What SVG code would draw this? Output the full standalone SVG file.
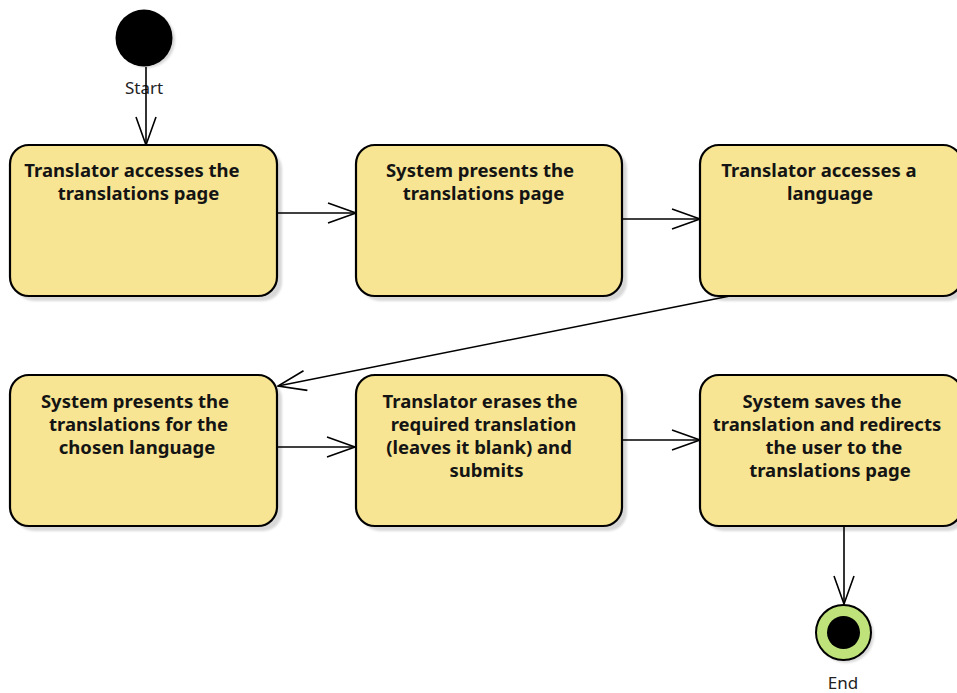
<svg xmlns="http://www.w3.org/2000/svg" width="957" height="693" viewBox="0 0 957 693">
  <style>
    .act { fill: #f8e593; stroke: #000; stroke-width: 2.2; }
    .shadow { fill: #d8d8d8; filter: url(#soft); }
    .lbl { font-family: "Noto Sans", "Open Sans", sans-serif; font-weight: bold; font-size: 18.5px; fill: #141414; text-anchor: middle; }
    .cap { font-family: "Noto Sans", "Open Sans", sans-serif; font-size: 17px; fill: #222; text-anchor: middle; }
    .edge { fill: none; stroke: #000; stroke-width: 1.6; }
  </style>
  <defs>
    <filter id="soft" x="-10%" y="-10%" width="120%" height="120%">
      <feGaussianBlur stdDeviation="1.2"/>
    </filter>
    <marker id="open" viewBox="0 0 30 22" refX="29" refY="11" markerWidth="30" markerHeight="22" markerUnits="userSpaceOnUse" orient="auto">
      <path d="M1,1 L29,11 L1,21" fill="none" stroke="#000" stroke-width="1.6"/>
    </marker>
  </defs>
  <rect width="957" height="693" fill="#fff"/>

  <!-- initial node -->
  <g id="start">
    <circle cx="147" cy="40" r="28" fill="#d8d8d8" filter="url(#soft)"/>
    <circle cx="144" cy="38" r="28.5" fill="#000"/>
    <text class="cap" x="144" y="94">Start</text>
  </g>

  <!-- actions -->
  <g id="a1">
    <rect class="shadow" x="15" y="150" width="267" height="151" rx="19"/>
    <rect class="act" x="10" y="145" width="267" height="151" rx="19"/>
    <text class="lbl"><tspan x="132" y="177">Translator accesses the</tspan><tspan x="138.5" y="200">translations page</tspan></text>
  </g>
  <g id="a2">
    <rect class="shadow" x="361" y="150" width="266" height="151" rx="19"/>
    <rect class="act" x="356" y="145" width="266" height="151" rx="19"/>
    <text class="lbl"><tspan x="480" y="177">System presents the</tspan><tspan x="483.5" y="200">translations page</tspan></text>
  </g>
  <g id="a3">
    <rect class="shadow" x="705" y="150" width="262" height="151" rx="19"/>
    <rect class="act" x="700" y="145" width="262" height="151" rx="19"/>
    <text class="lbl"><tspan x="819" y="177">Translator accesses a</tspan><tspan x="830" y="200">language</tspan></text>
  </g>
  <g id="a4">
    <rect class="shadow" x="15" y="380" width="267" height="151" rx="19"/>
    <rect class="act" x="10" y="375" width="267" height="151" rx="19"/>
    <text class="lbl"><tspan x="135" y="408">System presents the</tspan><tspan x="138.5" y="431">translations for the</tspan><tspan x="137" y="454">chosen language</tspan></text>
  </g>
  <g id="a5">
    <rect class="shadow" x="361" y="380" width="266" height="151" rx="19"/>
    <rect class="act" x="356" y="375" width="266" height="151" rx="19"/>
    <text class="lbl"><tspan x="480" y="408">Translator erases the</tspan><tspan x="483.5" y="431">required translation</tspan><tspan x="479" y="454">(leaves it blank) and</tspan><tspan x="486.5" y="477">submits</tspan></text>
  </g>
  <g id="a6">
    <rect class="shadow" x="705" y="380" width="262" height="151" rx="19"/>
    <rect class="act" x="700" y="375" width="262" height="151" rx="19"/>
    <text class="lbl"><tspan x="822" y="408">System saves the</tspan><tspan x="827" y="431">translation and redirects</tspan><tspan x="834" y="454">the user to the</tspan><tspan x="830" y="477">translations page</tspan></text>
  </g>

  <!-- final node -->
  <g id="end">
    <circle cx="846" cy="635" r="28" fill="#d8d8d8" filter="url(#soft)"/>
    <circle cx="843.5" cy="632.5" r="27.5" fill="#bfe37a" stroke="#000" stroke-width="2"/>
    <circle cx="843.5" cy="632.5" r="16.5" fill="#000"/>
    <text class="cap" x="843" y="689">End</text>
  </g>

  <!-- control flows -->
  <g id="flows">
    <line class="edge" x1="146" y1="67" x2="146" y2="145" marker-end="url(#open)"/>
    <line class="edge" x1="277" y1="213" x2="356" y2="213" marker-end="url(#open)"/>
    <line class="edge" x1="622" y1="219" x2="700" y2="219" marker-end="url(#open)"/>
    <line class="edge" x1="730" y1="296" x2="278" y2="386" marker-end="url(#open)"/>
    <line class="edge" x1="277" y1="447" x2="355" y2="447" marker-end="url(#open)"/>
    <line class="edge" x1="622" y1="440" x2="700" y2="440" marker-end="url(#open)"/>
    <line class="edge" x1="844" y1="526" x2="844" y2="604" marker-end="url(#open)"/>
  </g>
</svg>
